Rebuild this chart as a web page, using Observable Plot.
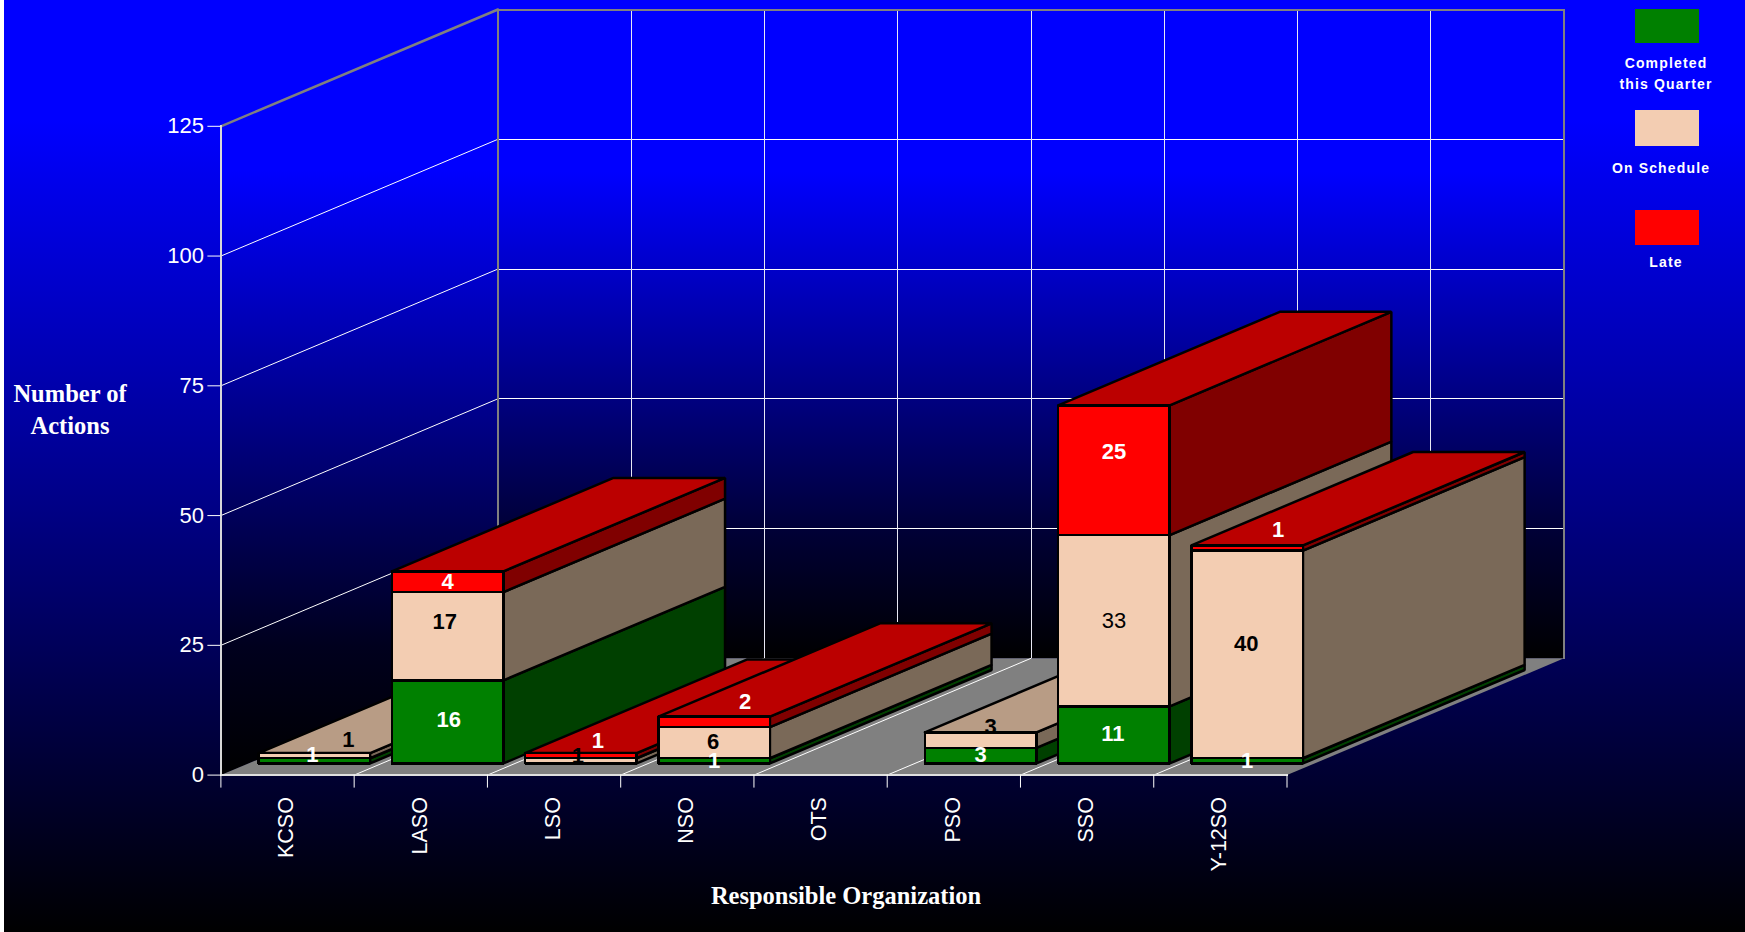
<!DOCTYPE html>
<html>
<head>
<meta charset="utf-8">
<script src="https://cdn.jsdelivr.net/npm/d3@7"></script>
<script src="https://cdn.jsdelivr.net/npm/@observablehq/plot@0.6"></script>
<style>
  html, body { margin: 0; padding: 0; width: 1745px; height: 932px; overflow: hidden; }
  body {
    position: relative;
    background:
      linear-gradient(#fff, #fff) 0 0 / 4px 100% no-repeat,
      linear-gradient(to bottom, #0000ff 0, #0000ff 120px, #000000 932px);
    font-family: "Liberation Sans", sans-serif;
  }
  #chart svg { display: block; }
  .axis-title {
    position: absolute; color: #fff; text-align: center; font-weight: bold;
    font-family: "Liberation Serif", serif; font-size: 24.5px; line-height: 32px; white-space: nowrap;
    transform: translate(-50%, -50%);
  }
  .swatch { position: absolute; left: 1635px; width: 64px; }
  .legend-label {
    position: absolute; color: #fff; font-weight: bold; font-size: 14px; letter-spacing: 1.15px;
    line-height: 21px; text-align: center; white-space: nowrap; transform: translate(-50%, -50%);
  }
</style>
</head>
<body>
<div id="chart"></div>
<script>
// ---- data ----
const categories = ["KCSO", "LASO", "LSO", "NSO", "OTS", "PSO", "SSO", "Y-12SO"];
const completed  = [1, 16, 0, 1, 0, 3, 11, 1];
const onSchedule = [1, 17, 1, 6, 0, 3, 33, 40];
const late       = [0, 4, 1, 2, 0, 0, 25, 1];
const yTicks = [0, 25, 50, 75, 100, 125];
const seriesNames = ["Completed\nthis Quarter", "On Schedule", "Late"];

// ---- face colours per series: front, side, top ----
const seriesValues = [completed, onSchedule, late];
const faceColors = [
  {front: "#008000", side: "#004000", top: "#005d00"},
  {front: "#f3cdb2", side: "#7a6958", top: "#b89c85"},
  {front: "#ff0000", side: "#800000", top: "#bb0000"}
];
const labelColors = ["white", "black", "white"];

// label nudges from the segment's front centre: [series][category] = [dx, dy, weight]
const labelNudges = [
  [[-2, -6], [1, -2], null, [0, 0], null, [0, -1], [-1, -1], [0, 0]],
  [[34, -16], [-3, -14], [-3, -5], [-1, -1], null, [10, -13], [0, 0, "normal"], [-1, -10]],
  [null, [0, 0], [17, -15], [31, -20], null, null, [0, -18], [31, -18]]
];

// ---- oblique projection, in data units ----
const depthX = 2.079;   // categories of x per full depth
const depthY = 22.5;    // actions of y per full depth
const nearZ = 0.1, farZ = 0.9, barLeft = 0.075, barRight = 0.912;
const P = (x, y, z) => ({x: x + z * depthX, y: y + z * depthY});

const poly = (pts, options) => Plot.line([...pts, pts[0]], {x: "x", y: "y", ...options});
// slanted segment, anti-aliased
const seg = (a, b, stroke, strokeWidth) => Plot.line([a, b], {x: "x", y: "y", stroke, strokeWidth});
// axis-aligned segment, crisp
const hv = (a, b, stroke, strokeWidth) => Plot.line([a, b], {x: "x", y: "y", stroke, strokeWidth, shapeRendering: "crispEdges"});

const nCat = categories.length, yMax = yTicks[yTicks.length - 1];

// walls and floor
const walls = [
  poly([P(0,0,0), P(0,yMax,0), P(0,yMax,1), P(0,0,1)], {fill: "url(#wallLeft)", stroke: "none"}),
  poly([P(0,0,1), P(0,yMax,1), P(nCat,yMax,1), P(nCat,0,1)], {fill: "url(#wallBack)", stroke: "none"}),
  ...yTicks.slice(1, -1).flatMap(v => [
    seg(P(0,v,0), P(0,v,1), "#ffffff", 1),
    hv(P(0,v,1), P(nCat,v,1), "#ffffff", 1)
  ]),
  ...d3.range(1, nCat).map(c => hv(P(c,0,1), P(c,yMax,1), "#e8e8f4", 1)),
  poly([P(0,0,0), P(nCat,0,0), P(nCat,0,1), P(0,0,1)], {fill: "#808080", stroke: "none"}),
  ...d3.range(1, nCat).map(c => seg(P(c,0,0), P(c,0,1), "#ffffff", 1)),
  seg(P(0,yMax,0), P(0,yMax,1), "#808080", 2.5),
  hv(P(0,0,1), P(0,yMax,1), "#808080", 2),
  hv(P(0,yMax,1), P(nCat,yMax,1), "#808080", 2),
  hv(P(nCat,0,1), P(nCat,yMax,1), "#808080", 2),
  hv(P(0,0,0), P(0,yMax,0), "#d8d8d8", 2),
  hv(P(0,0,0), P(nCat,0,0), "#e0e0e0", 2)
];

// bars, painted left to right
const bars = [];
const labels = [];
categories.forEach((_, i) => {
  const x0 = i + barLeft, x1 = i + barRight;
  let base = 0;
  const parts = [];
  seriesValues.forEach((values, s) => {
    const v = values[i];
    if (v > 0) {
      parts.push({s, lo: base, hi: base + v});
      const nudge = labelNudges[s][i] || [0, 0];
      const at = P((x0 + x1) / 2, base + v / 2, nearZ);
      labels.push(Plot.text([String(v)], {
        x: [at.x], y: [at.y], text: d => d, dx: nudge[0], dy: nudge[1],
        fill: labelColors[s], fontWeight: nudge[2] || "bold", fontSize: 22
      }));
      base += v;
    }
  });
  const opt = c => ({fill: c, stroke: "black", strokeWidth: 2.5, strokeLinejoin: "miter"});
  parts.forEach(({s, lo, hi}) => bars.push(
    poly([P(x1,lo,nearZ), P(x1,hi,nearZ), P(x1,hi,farZ), P(x1,lo,farZ)], opt(faceColors[s].side))
  ));
  if (parts.length) {
    const last = parts[parts.length - 1];
    bars.push(poly([P(x0,base,nearZ), P(x1,base,nearZ), P(x1,base,farZ), P(x0,base,farZ)], opt(faceColors[last.s].top)));
  }
  parts.forEach(({s, lo, hi}) => bars.push(
    poly([P(x0,lo,nearZ), P(x1,lo,nearZ), P(x1,hi,nearZ), P(x0,hi,nearZ)], {...opt(faceColors[s].front), shapeRendering: "crispEdges"})
  ));
});

const gradients = () => {
  const defs = d3.create("svg:defs");
  defs.html(`
    <linearGradient id="wallLeft" x1="0" y1="0" x2="0" y2="1">
      <stop offset="0.21" stop-color="#0000ff"/><stop offset="0.66" stop-color="#00005a"/>
      <stop offset="0.83" stop-color="#00001e"/><stop offset="1" stop-color="#000000"/>
    </linearGradient>
    <linearGradient id="wallBack" x1="0" y1="0" x2="0" y2="1">
      <stop offset="0.25" stop-color="#0000ff"/><stop offset="0.8" stop-color="#000037"/>
      <stop offset="1" stop-color="#000000"/>
    </linearGradient>`);
  return defs.node();
};

const chart = Plot.plot({
  width: 1745,
  height: 932,
  marginLeft: 220.4,
  marginRight: 458.5,
  marginTop: 125.8,
  marginBottom: 157.4,
  style: {background: "transparent", fontFamily: "Liberation Sans, sans-serif", color: "white", overflow: "visible"},
  x: {domain: [0, nCat], axis: null},
  y: {domain: [0, yMax], axis: null},
  marks: [
    gradients,
    ...walls,
    Plot.axisY({ticks: yTicks, anchor: "left", color: "white", tickSize: 13, tickPadding: 4, fontSize: 22, label: null, tickFormat: d => String(d)}),
    Plot.axisX({ticks: d3.range(0, nCat + 1), anchor: "bottom", color: "white", tickSize: 13, tickFormat: () => "", label: null}),
    Plot.axisX({ticks: categories.map((_, i) => i + 0.5), anchor: "bottom", color: "white", tickSize: 0, tickPadding: 22, dx: -1, fontSize: 21.5, tickRotate: -90, label: null, tickFormat: d => categories[d - 0.5]}),
    ...bars,
    ...labels
  ]
});
document.getElementById("chart").append(chart);

// axis titles
const addTitle = (text, left, topPx) => {
  const el = document.createElement("div");
  el.className = "axis-title";
  el.innerHTML = text;
  el.style.left = left + "px";
  el.style.top = topPx + "px";
  document.body.append(el);
};
addTitle("Number of<br>Actions", 70, 410);
addTitle("Responsible Organization", 846, 896);

// legend
const swatchTops = [[9, 34], [110, 36], [210, 35]];
const labelPos = [[1666, 74], [1661, 168], [1666, 262]];
seriesNames.forEach((name, s) => {
  const sw = document.createElement("div");
  sw.className = "swatch";
  sw.style.top = swatchTops[s][0] + "px";
  sw.style.height = swatchTops[s][1] + "px";
  sw.style.background = faceColors[s].front;
  document.body.append(sw);
  const lb = document.createElement("div");
  lb.className = "legend-label";
  lb.innerHTML = name.replace("\n", "<br>");
  lb.style.left = labelPos[s][0] + "px";
  lb.style.top = labelPos[s][1] + "px";
  document.body.append(lb);
});
</script>
</body>
</html>
